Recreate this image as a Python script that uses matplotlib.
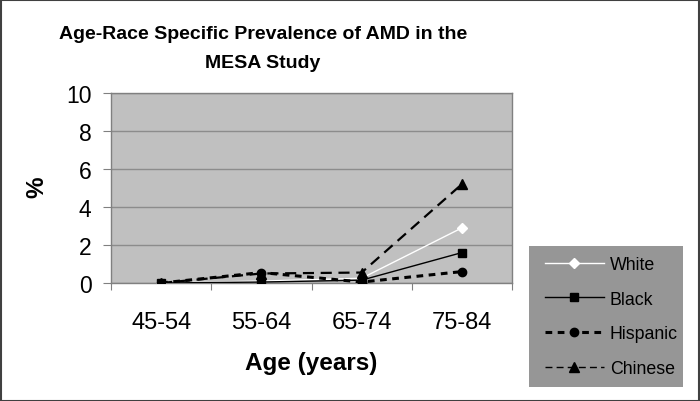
#!/usr/bin/env python3

import matplotlib
matplotlib.use('Agg')
import matplotlib.pyplot as plt
from matplotlib.patches import Rectangle

plt.rcParams['font.family'] = ['Liberation Sans', 'DejaVu Sans']

ages = ['45-54', '55-64', '65-74', '75-84']
white = [0.0, 0.1, 0.25, 2.9]
black = [0.0, 0.05, 0.15, 1.6]
hispanic = [0.0, 0.55, 0.05, 0.6]
chinese = [0.0, 0.5, 0.55, 5.2]
yticks = [0, 2, 4, 6, 8, 10]

W, H = 700, 402
fig = plt.figure(figsize=(W/100, H/100), dpi=100)
fig.patch.set_facecolor('white')
fig.patches.append(Rectangle((0.5/W, 0.5/H), 1 - 1.5/W, 1 - 1.5/H,
	transform=fig.transFigure, fill=False, edgecolor='#404040', lw=1.5))
# legend background box
fig.patches.append(Rectangle((529/W, 1 - 388/H), 154/W, 141/H,
	transform=fig.transFigure, facecolor='#969696', edgecolor='none', zorder=-1))

ax = fig.add_axes([111/W, 1 - 284/H, 401/W, 190/H])
ax.set_facecolor('#c0c0c0')
x = list(range(len(ages)))

ax.plot(x, white, color='white', lw=1.0, marker='D', ms=5.5,
	mfc='white', mec='white', label='White', zorder=3)
ax.plot(x, black, color='black', lw=1.0, marker='s', ms=6,
	label='Black', zorder=3)
ax.plot(x, hispanic, color='black', lw=2.2, dashes=(2.2, 1.8), marker='o', ms=6,
	label='Hispanic', zorder=3)
ax.plot(x, chinese, color='black', lw=1.6, dashes=(5, 3), marker='^', ms=7,
	label='Chinese', zorder=3)

ax.set_xlim(-0.5, 3.5)
ax.set_ylim(0, 10)
ax.set_yticks(yticks)
ax.set_xticks([i - 0.5 for i in range(len(ages) + 1)], minor=False)
ax.set_xticklabels([])
ax.set_xticks(x, minor=True)
ax.set_xticklabels(ages, minor=True)
ax.tick_params(axis='x', which='major', length=5, color='#808080', direction='out')
ax.tick_params(axis='x', which='minor', length=0, pad=20, labelsize=17)
ax.tick_params(axis='y', length=6, color='#808080', pad=8, labelsize=16.5)
ax.grid(axis='y', color='#8c8c8c', lw=1.0)
ax.set_axisbelow(True)
for s in ax.spines.values():
	s.set_color('#808080')
	s.set_linewidth(1.0)

fig.text(263/W, 1 - 49/H, 'Age-Race Specific Prevalence of AMD in the\nMESA Study',
	ha='center', va='center', fontsize=14, fontweight='bold', linespacing=1.9)
fig.text(311/W, 1 - 364/H, 'Age (years)', ha='center', va='center',
	fontsize=17.5, fontweight='bold')
fig.text(37/W, 1 - 187/H, '%', ha='center', va='center', rotation=90,
	fontsize=17.5, fontweight='bold')

legend = ax.legend(loc='upper left',
	bbox_to_anchor=(535/W, 1 - 388/H, 148/W, 141/H),
	bbox_transform=fig.transFigure, mode='expand', fontsize=12.8,
	handlelength=3.3, handletextpad=0.35, labelspacing=0.99,
	borderaxespad=0, borderpad=0.56, frameon=False)
for line in legend.get_lines():
	if line.get_label() == 'Chinese':
		line.set_linewidth(1.0)

fig.savefig('out.png', dpi=100)
